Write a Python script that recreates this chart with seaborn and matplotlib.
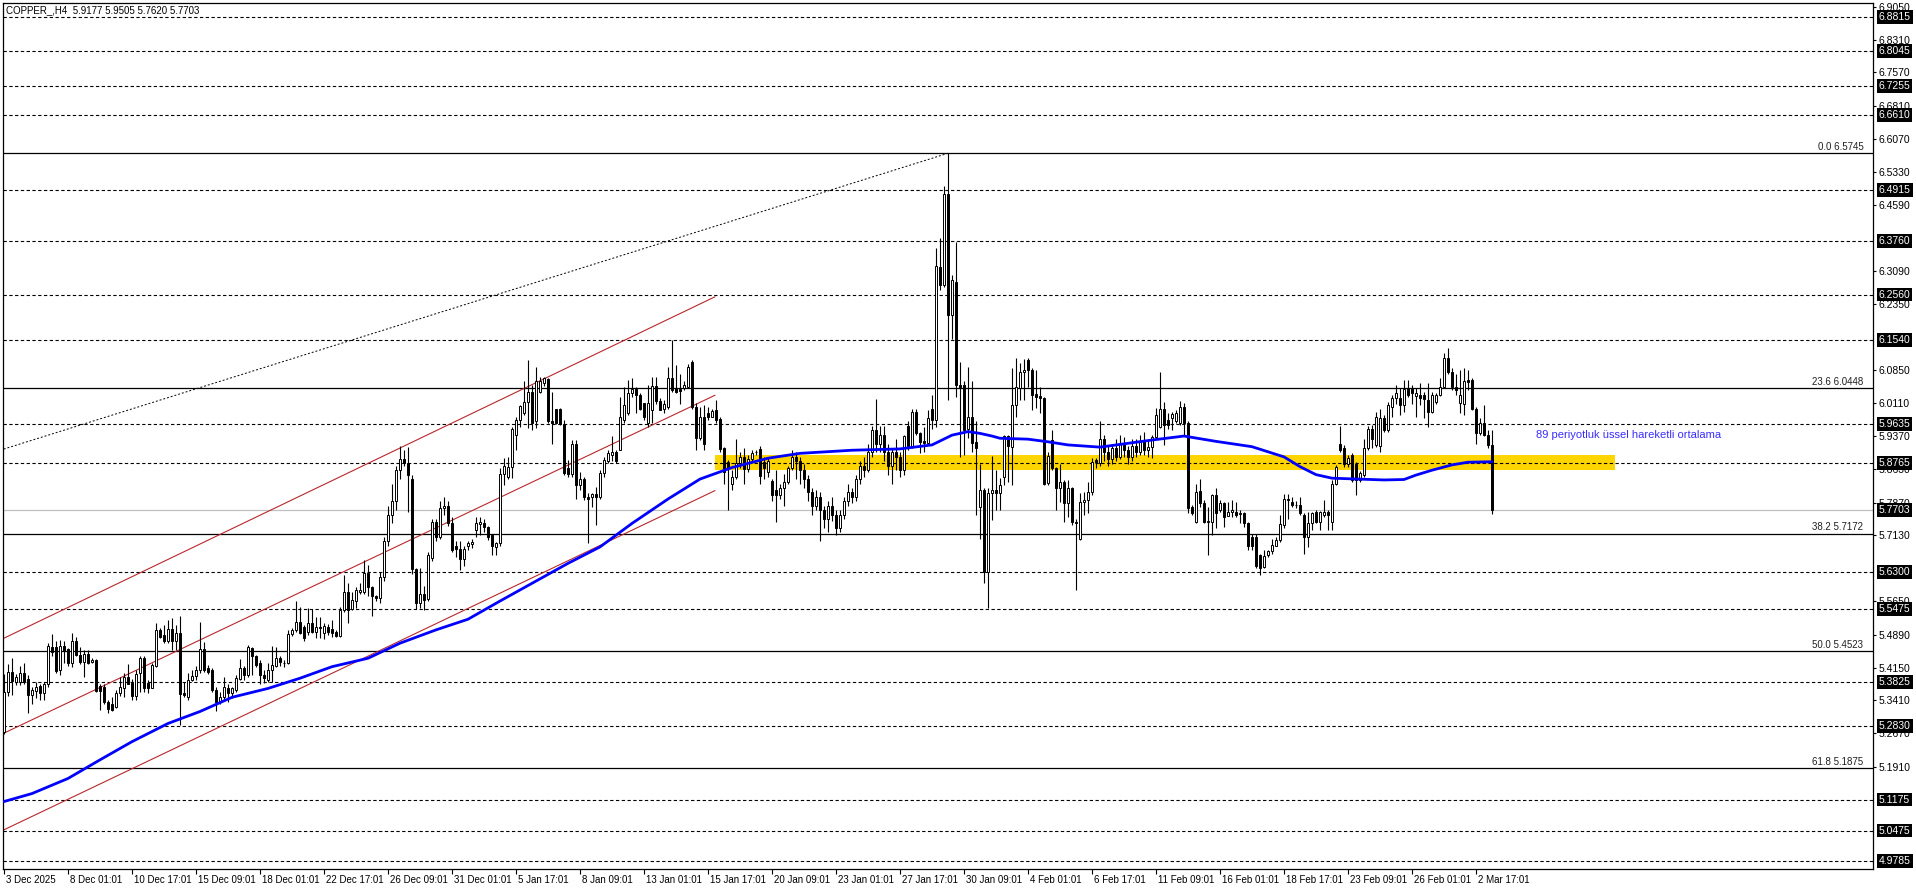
import matplotlib
matplotlib.use("Agg")
import matplotlib.pyplot as plt
import matplotlib.transforms as mtransforms
import numpy as np
import seaborn as sns

# H4 candles (bar 0 = 3 Dec 2025)
opens = [
    5.27, 5.36, 5.406, 5.383, 5.383, 5.402, 5.39, 5.353, 5.362, 5.373,
    5.358, 5.378, 5.461, 5.461, 5.409, 5.464, 5.456, 5.426, 5.475, 5.443,
    5.428, 5.445, 5.428, 5.432, 5.373, 5.372, 5.338, 5.333, 5.327, 5.357,
    5.37, 5.394, 5.381, 5.351, 5.402, 5.437, 5.381, 5.37, 5.419, 5.50,
    5.488, 5.475, 5.503, 5.475, 5.494, 5.357, 5.348, 5.388, 5.396, 5.41,
    5.458, 5.413, 5.41, 5.364, 5.338, 5.349, 5.37, 5.357, 5.364, 5.39,
    5.415, 5.398, 5.459, 5.44, 5.426, 5.398, 5.387, 5.409, 5.419, 5.437,
    5.426, 5.426, 5.49, 5.50, 5.518, 5.507, 5.496, 5.516, 5.496, 5.507,
    5.494, 5.507, 5.501, 5.496, 5.486, 5.545, 5.585, 5.547, 5.566, 5.586,
    5.586, 5.629, 5.597, 5.576, 5.571, 5.62, 5.70, 5.76, 5.79, 5.86,
    5.885, 5.877, 5.84, 5.638, 5.56, 5.58, 5.569, 5.661, 5.744, 5.71,
    5.775, 5.78, 5.74, 5.69, 5.683, 5.66, 5.688, 5.693, 5.725, 5.739,
    5.742, 5.733, 5.713, 5.687, 5.695, 5.851, 5.845, 5.868, 5.94, 5.973,
    5.988, 6.014, 6.037, 5.97, 6.037, 6.056, 6.065, 5.971, 5.997, 5.997,
    5.964, 5.864, 5.851, 5.919, 5.826, 5.841, 5.80, 5.80, 5.806, 5.80,
    5.853, 5.88, 5.894, 5.902, 5.905, 5.973, 5.988, 6.033, 6.044, 6.03,
    6.011, 5.966, 5.995, 6.05, 6.015, 5.999, 6.003, 6.067, 6.045, 6.044,
    6.045, 6.048, 6.105, 6.003, 5.932, 5.98, 5.99, 5.98, 5.996, 5.975,
    5.909, 5.879, 5.83, 5.845, 5.876, 5.89, 5.862, 5.885, 5.90, 5.908,
    5.878, 5.855, 5.835, 5.815, 5.804, 5.82, 5.834, 5.864, 5.89, 5.88,
    5.86, 5.84, 5.81, 5.78, 5.80, 5.77, 5.75, 5.78, 5.76, 5.73,
    5.76, 5.79, 5.81, 5.80, 5.84, 5.87, 5.86, 5.90, 5.95, 5.92,
    5.94, 5.90, 5.87, 5.90, 5.89, 5.86, 5.96, 5.913, 5.992, 5.943,
    5.926, 5.921, 5.997, 5.973, 6.317, 6.278, 6.483, 6.21, 6.285, 6.052,
    6.052, 5.952, 5.979, 5.924, 5.776, 5.815, 5.631, 5.808, 5.815, 5.808,
    5.845, 5.936, 5.912, 6.007, 6.045, 6.082, 6.108, 6.086, 6.032, 6.027,
    6.022, 5.832, 5.928, 5.864, 5.819, 5.834, 5.786, 5.819, 5.744, 5.706,
    5.789, 5.792, 5.811, 5.884, 5.876, 5.93, 5.90, 5.885, 5.91, 5.89,
    5.92, 5.905, 5.89, 5.915, 5.90, 5.925, 5.905, 5.913, 5.935, 5.958,
    5.999, 5.973, 5.978, 5.97, 5.966, 6.003, 5.966, 5.778, 5.744, 5.813,
    5.785, 5.744, 5.744, 5.804, 5.77, 5.785, 5.757, 5.766, 5.766, 5.762,
    5.764, 5.742, 5.71, 5.71, 5.669, 5.642, 5.668, 5.678, 5.69, 5.703,
    5.736, 5.794, 5.789, 5.782, 5.781, 5.759, 5.71, 5.74, 5.766, 5.744,
    5.758, 5.766, 5.744, 5.83, 5.92, 5.91, 5.875, 5.894, 5.875, 5.838,
    5.849, 5.909, 5.952, 5.917, 5.914, 5.978, 5.95, 6.003, 6.022, 6.022,
    6.007, 6.045, 6.045, 6.027, 6.03, 6.03, 6.018, 5.992, 6.014, 6.03,
    6.048, 6.112, 6.082, 6.048, 6.011, 6.01, 6.063, 6.063, 5.999, 5.943,
    5.966, 5.94, 5.9177,
]
highs = [
    5.40, 5.424, 5.436, 5.40, 5.418, 5.425, 5.398, 5.372, 5.383, 5.379,
    5.383, 5.47, 5.491, 5.474, 5.477, 5.474, 5.46, 5.494, 5.483, 5.462,
    5.455, 5.454, 5.437, 5.434, 5.379, 5.379, 5.342, 5.349, 5.364, 5.394,
    5.402, 5.423, 5.39, 5.41, 5.44, 5.44, 5.387, 5.425, 5.515, 5.504,
    5.511, 5.522, 5.526, 5.511, 5.531, 5.383, 5.402, 5.41, 5.418, 5.518,
    5.473, 5.42, 5.413, 5.372, 5.36, 5.394, 5.379, 5.372, 5.398, 5.434,
    5.418, 5.466, 5.461, 5.443, 5.432, 5.409, 5.426, 5.464, 5.461, 5.441,
    5.432, 5.50, 5.504, 5.564, 5.552, 5.511, 5.549, 5.546, 5.528, 5.53,
    5.515, 5.513, 5.522, 5.50, 5.551, 5.624, 5.606, 5.586, 5.597, 5.605,
    5.657, 5.646, 5.599, 5.579, 5.63, 5.71, 5.78, 5.83, 5.87, 5.915,
    5.905, 5.913, 5.85, 5.64, 5.64, 5.60, 5.675, 5.75, 5.75, 5.79,
    5.80, 5.79, 5.755, 5.70, 5.70, 5.69, 5.70, 5.705, 5.755, 5.755,
    5.75, 5.735, 5.717, 5.699, 5.864, 5.887, 5.89, 5.958, 5.98, 6.007,
    6.06, 6.108, 6.052, 6.093, 6.07, 6.07, 6.067, 6.037, 5.997, 6.0,
    5.973, 5.883, 5.928, 5.928, 5.856, 5.845, 5.808, 5.808, 5.823, 5.86,
    5.89, 5.905, 5.936, 5.906, 6.026, 6.048, 6.063, 6.067, 6.048, 6.033,
    6.011, 6.052, 6.07, 6.07, 6.022, 6.018, 6.093, 6.153, 6.097, 6.078,
    6.06, 6.10, 6.108, 6.011, 6.003, 6.007, 6.003, 5.999, 6.018, 5.98,
    5.913, 5.883, 5.86, 5.93, 5.90, 5.91, 5.895, 5.905, 5.905, 5.915,
    5.89, 5.89, 5.84, 5.86, 5.83, 5.852, 5.87, 5.905, 5.90, 5.89,
    5.875, 5.85, 5.82, 5.815, 5.81, 5.78, 5.79, 5.80, 5.77, 5.77,
    5.80, 5.83, 5.82, 5.85, 5.88, 5.89, 5.92, 5.96, 6.02, 5.96,
    5.96, 5.92, 5.91, 5.93, 5.90, 5.94, 5.97, 5.999, 5.999, 5.947,
    5.958, 5.996, 6.03, 6.36, 6.383, 6.50, 6.5745, 6.30, 6.375, 6.105,
    6.06, 6.092, 6.06, 5.97, 5.874, 5.819, 5.819, 5.892, 5.86, 5.842,
    5.94, 5.94, 6.09, 6.112, 6.101, 6.11, 6.112, 6.09, 6.086, 6.048,
    6.026, 5.902, 5.951, 5.868, 5.874, 5.838, 5.838, 5.823, 5.75, 5.808,
    5.81, 5.834, 5.887, 5.887, 5.97, 5.94, 5.915, 5.92, 5.93, 5.94,
    5.935, 5.915, 5.93, 5.93, 5.94, 5.945, 5.925, 5.94, 6.0, 6.082,
    6.014, 5.988, 5.992, 5.996, 6.016, 6.011, 5.97, 5.781, 5.83, 5.841,
    5.793, 5.778, 5.806, 5.819, 5.793, 5.789, 5.789, 5.793, 5.789, 5.77,
    5.766, 5.744, 5.717, 5.716, 5.672, 5.68, 5.68, 5.706, 5.71, 5.759,
    5.806, 5.806, 5.80, 5.79, 5.80, 5.763, 5.766, 5.766, 5.77, 5.769,
    5.793, 5.77, 5.838, 5.872, 5.96, 5.917, 5.894, 5.898, 5.879, 5.858,
    5.93, 5.96, 5.962, 5.992, 5.999, 5.985, 6.014, 6.03, 6.052, 6.045,
    6.063, 6.063, 6.052, 6.045, 6.056, 6.037, 6.056, 6.037, 6.033, 6.067,
    6.125, 6.135, 6.09, 6.078, 6.086, 6.09, 6.087, 6.067, 6.003, 5.977,
    6.007, 5.95, 5.9505,
]
lows = [
    5.265, 5.35, 5.353, 5.375, 5.376, 5.379, 5.312, 5.334, 5.346, 5.342,
    5.342, 5.372, 5.44, 5.402, 5.398, 5.425, 5.419, 5.417, 5.44, 5.424,
    5.394, 5.423, 5.425, 5.36, 5.319, 5.334, 5.313, 5.316, 5.323, 5.351,
    5.349, 5.378, 5.342, 5.342, 5.36, 5.361, 5.358, 5.368, 5.417, 5.481,
    5.471, 5.47, 5.455, 5.455, 5.285, 5.349, 5.342, 5.385, 5.387, 5.402,
    5.406, 5.40, 5.361, 5.316, 5.334, 5.342, 5.338, 5.346, 5.361, 5.386,
    5.387, 5.394, 5.398, 5.417, 5.379, 5.381, 5.383, 5.383, 5.417, 5.418,
    5.417, 5.423, 5.486, 5.496, 5.491, 5.476, 5.488, 5.492, 5.481, 5.481,
    5.479, 5.488, 5.485, 5.483, 5.483, 5.541, 5.515, 5.544, 5.549, 5.582,
    5.582, 5.576, 5.531, 5.566, 5.56, 5.61, 5.69, 5.74, 5.77, 5.84,
    5.87, 5.766, 5.625, 5.548, 5.55, 5.545, 5.565, 5.655, 5.70, 5.705,
    5.76, 5.735, 5.675, 5.665, 5.635, 5.645, 5.68, 5.685, 5.71, 5.714,
    5.72, 5.703, 5.669, 5.669, 5.69, 5.826, 5.84, 5.842, 5.905, 5.958,
    5.984, 5.955, 5.95, 5.955, 6.035, 6.05, 5.966, 5.92, 5.964, 5.962,
    5.849, 5.845, 5.845, 5.796, 5.815, 5.793, 5.696, 5.778, 5.736, 5.796,
    5.845, 5.876, 5.88, 5.876, 5.905, 5.966, 5.984, 6.026, 5.99, 5.995,
    5.973, 5.958, 5.966, 6.01, 5.996, 5.988, 5.999, 6.037, 6.033, 6.01,
    6.04, 6.045, 5.999, 5.906, 5.928, 5.906, 5.973, 5.98, 5.966, 5.902,
    5.83, 5.77, 5.815, 5.84, 5.866, 5.83, 5.855, 5.878, 5.895, 5.83,
    5.84, 5.845, 5.79, 5.744, 5.795, 5.78, 5.83, 5.86, 5.84, 5.83,
    5.82, 5.79, 5.76, 5.77, 5.70, 5.73, 5.72, 5.745, 5.715, 5.72,
    5.75, 5.78, 5.785, 5.79, 5.83, 5.845, 5.855, 5.89, 5.90, 5.90,
    5.88, 5.85, 5.83, 5.86, 5.845, 5.85, 5.905, 5.909, 5.94, 5.898,
    5.902, 5.917, 5.954, 5.958, 6.266, 6.274, 6.018, 6.155, 6.026, 5.89,
    5.894, 5.932, 5.902, 5.759, 5.706, 5.605, 5.549, 5.748, 5.77, 5.77,
    5.826, 5.834, 5.826, 5.98, 6.018, 6.018, 6.048, 5.996, 6.0, 5.988,
    5.827, 5.827, 5.86, 5.77, 5.789, 5.744, 5.755, 5.736, 5.59, 5.702,
    5.76, 5.763, 5.804, 5.865, 5.87, 5.88, 5.87, 5.875, 5.88, 5.885,
    5.89, 5.875, 5.88, 5.89, 5.895, 5.895, 5.89, 5.887, 5.93, 5.955,
    5.917, 5.954, 5.95, 5.966, 5.962, 5.94, 5.763, 5.759, 5.74, 5.778,
    5.74, 5.669, 5.714, 5.729, 5.766, 5.733, 5.757, 5.755, 5.755, 5.74,
    5.733, 5.68, 5.68, 5.639, 5.624, 5.639, 5.665, 5.672, 5.688, 5.699,
    5.729, 5.75, 5.778, 5.775, 5.759, 5.672, 5.687, 5.725, 5.74, 5.725,
    5.755, 5.725, 5.725, 5.826, 5.902, 5.868, 5.868, 5.834, 5.804, 5.834,
    5.845, 5.905, 5.91, 5.913, 5.90, 5.945, 5.947, 5.98, 6.01, 5.985,
    5.992, 6.026, 6.01, 5.981, 6.007, 5.977, 5.958, 5.988, 6.01, 6.027,
    6.045, 6.078, 6.041, 6.03, 5.988, 5.985, 6.041, 5.996, 5.92, 5.939,
    5.936, 5.91, 5.762,
]
closes = [
    5.36, 5.406, 5.385, 5.394, 5.402, 5.383, 5.353, 5.364, 5.372, 5.358,
    5.379, 5.464, 5.451, 5.407, 5.464, 5.453, 5.426, 5.475, 5.443, 5.428,
    5.445, 5.426, 5.433, 5.362, 5.362, 5.338, 5.321, 5.319, 5.357, 5.372,
    5.394, 5.379, 5.351, 5.40, 5.437, 5.368, 5.368, 5.421, 5.50, 5.485,
    5.475, 5.503, 5.475, 5.494, 5.355, 5.354, 5.388, 5.396, 5.41, 5.458,
    5.41, 5.404, 5.364, 5.338, 5.349, 5.372, 5.358, 5.368, 5.391, 5.415,
    5.398, 5.461, 5.44, 5.421, 5.398, 5.391, 5.409, 5.421, 5.436, 5.428,
    5.425, 5.491, 5.50, 5.518, 5.494, 5.481, 5.516, 5.496, 5.507, 5.504,
    5.509, 5.496, 5.494, 5.486, 5.545, 5.585, 5.545, 5.567, 5.591, 5.591,
    5.629, 5.597, 5.576, 5.571, 5.62, 5.70, 5.76, 5.79, 5.86, 5.885,
    5.877, 5.85, 5.638, 5.56, 5.58, 5.567, 5.669, 5.744, 5.71, 5.775,
    5.78, 5.74, 5.68, 5.682, 5.66, 5.683, 5.695, 5.698, 5.74, 5.744,
    5.733, 5.71, 5.688, 5.695, 5.851, 5.869, 5.868, 5.954, 5.973, 6.005,
    6.014, 6.037, 5.966, 6.06, 6.06, 6.067, 5.97, 5.966, 5.966, 5.964,
    5.854, 5.851, 5.919, 5.826, 5.841, 5.799, 5.796, 5.806, 5.80, 5.853,
    5.883, 5.898, 5.902, 5.88, 5.98, 6.007, 6.035, 6.044, 6.03, 5.999,
    5.98, 6.011, 6.05, 6.015, 5.996, 6.01, 6.067, 6.041, 6.037, 6.039,
    6.052, 6.093, 6.003, 5.932, 5.98, 5.919, 5.98, 5.994, 5.973, 5.907,
    5.857, 5.864, 5.845, 5.876, 5.89, 5.862, 5.885, 5.898, 5.901, 5.846,
    5.865, 5.88, 5.804, 5.804, 5.82, 5.834, 5.865, 5.89, 5.88, 5.86,
    5.84, 5.81, 5.78, 5.80, 5.77, 5.75, 5.78, 5.76, 5.73, 5.76,
    5.79, 5.81, 5.80, 5.84, 5.87, 5.86, 5.90, 5.95, 5.92, 5.94,
    5.90, 5.87, 5.90, 5.89, 5.86, 5.937, 5.913, 5.992, 5.943, 5.924,
    5.921, 5.978, 5.973, 6.32, 6.278, 6.483, 6.21, 6.289, 6.052, 6.048,
    5.951, 5.979, 5.921, 5.909, 5.815, 5.631, 5.808, 5.815, 5.808, 5.827,
    5.936, 5.915, 6.007, 6.047, 6.082, 6.087, 6.086, 6.03, 6.026, 6.022,
    5.83, 5.892, 5.864, 5.819, 5.834, 5.786, 5.819, 5.744, 5.74, 5.789,
    5.792, 5.811, 5.879, 5.879, 5.93, 5.90, 5.885, 5.91, 5.89, 5.92,
    5.905, 5.89, 5.915, 5.90, 5.925, 5.905, 5.913, 5.935, 5.984, 5.999,
    5.962, 5.962, 5.986, 5.988, 6.003, 5.966, 5.774, 5.763, 5.811, 5.785,
    5.744, 5.746, 5.804, 5.763, 5.785, 5.755, 5.766, 5.77, 5.759, 5.764,
    5.742, 5.688, 5.688, 5.644, 5.639, 5.667, 5.678, 5.691, 5.703, 5.739,
    5.794, 5.792, 5.782, 5.781, 5.763, 5.71, 5.74, 5.763, 5.744, 5.766,
    5.766, 5.759, 5.83, 5.868, 5.905, 5.875, 5.887, 5.838, 5.838, 5.853,
    5.909, 5.952, 5.93, 5.981, 5.978, 5.95, 6.007, 6.022, 6.034, 6.007,
    6.042, 6.03, 6.033, 6.033, 6.022, 6.02, 5.992, 6.03, 6.03, 6.048,
    6.112, 6.082, 6.048, 6.041, 6.03, 6.06, 6.058, 5.999, 5.943, 5.966,
    5.94, 5.917, 5.7703,
]

# EMA(89) as drawn on the chart, read at these bars
ema_bars = [0, 7, 16, 24, 32, 41, 49, 57, 66, 74, 82, 91, 99, 108, 116, 124,
            132, 141, 149, 157, 166, 174, 182, 191, 199, 212, 224, 232, 237,
            241, 244, 247, 249, 256, 261, 266, 274, 287, 295, 303, 312, 320,
            324, 328, 332, 345, 350, 353, 357, 362, 366, 372]
ema_values = [5.113, 5.131, 5.165, 5.207, 5.248, 5.289, 5.316, 5.348, 5.368,
              5.391, 5.417, 5.436, 5.470, 5.500, 5.524, 5.565, 5.605, 5.650,
              5.687, 5.740, 5.795, 5.840, 5.866, 5.887, 5.898, 5.905, 5.908,
              5.917, 5.939, 5.947, 5.943, 5.937, 5.932, 5.930, 5.924, 5.917,
              5.912, 5.928, 5.937, 5.925, 5.913, 5.890, 5.868, 5.850, 5.842,
              5.838, 5.839, 5.849, 5.860, 5.872, 5.878, 5.879]

date_labels = [
    "3 Dec 2025", "8 Dec 01:01", "10 Dec 17:01", "15 Dec 09:01", "18 Dec 01:01",
    "22 Dec 17:01", "26 Dec 09:01", "31 Dec 01:01", "5 Jan 17:01", "8 Jan 09:01",
    "13 Jan 01:01", "15 Jan 17:01", "20 Jan 09:01", "23 Jan 01:01", "27 Jan 17:01",
    "30 Jan 09:01", "4 Feb 01:01", "6 Feb 17:01", "11 Feb 09:01", "16 Feb 01:01",
    "18 Feb 17:01", "23 Feb 09:01", "26 Feb 01:01", "2 Mar 17:01",
]
price_ticks = [6.9050, 6.8310, 6.7570, 6.6810, 6.6070, 6.5330, 6.4590,
               6.3090, 6.2350, 6.0850, 6.0110, 5.9370, 5.8630, 5.7870,
               5.7130, 5.5650, 5.4890, 5.4150, 5.3410, 5.2670, 5.1910]
levels = [6.8815, 6.8045, 6.7255, 6.6610, 6.4915, 6.3760, 6.2560, 6.1540,
          5.9635, 5.8765, 5.6300, 5.5475, 5.3825, 5.2830, 5.1175, 5.0475, 4.9785]
fib_names = ["0.0", "23.6", "38.2", "50.0", "61.8"]
fib_prices = [6.5745, 6.0448, 5.7172, 5.4523, 5.1875]
last_price = 5.7703
channel_start = [5.477, 5.263, 5.045]
channel_end = [6.251, 6.029, 5.814]
zone_low, zone_high = 5.860, 5.894

sns.set_theme(style="white")
plt.rcParams['font.family'] = ['Liberation Sans', 'DejaVu Sans']

fig = plt.figure(figsize=(19.16, 8.88), dpi=100)
ax = fig.add_axes([3 / 1916, 19 / 888, 1870 / 1916, 866 / 888])

o = np.array(opens)
c = np.array(closes)
h = np.maximum(np.array(highs), np.maximum(o, c))
l = np.minimum(np.array(lows), np.minimum(o, c))
idx = np.arange(len(c))
up = c >= o

# zone, levels, fib lines
ax.fill_between([177.75, 402.75], zone_low, zone_high, color='#ffd500', lw=0, zorder=0.5)
for lv in levels:
    ax.axhline(lv, color='black', lw=0.8, ls=(0, (3, 2.2)), zorder=1)
for name, lv in zip(fib_names, fib_prices):
    ax.axhline(lv, color='black', lw=0.9, zorder=1)
    ax.annotate(f"{name} {lv:.4f}", xy=(1, lv), xycoords=ax.get_yaxis_transform(),
                xytext=(-7, 1), textcoords='offset points', ha='right', va='bottom',
                fontsize=7, color='#202020')
ax.axhline(last_price, color='#c0c0c0', lw=0.9, zorder=1)

# channel and fib trend line
for s, e in zip(channel_start, channel_end):
    ax.plot([-1, 177.75], [s, e], color='#b8282d', lw=0.8, zorder=2)
ax.plot([-1, 236], [5.905, 6.5745], color='black', lw=0.7, ls=(0, (2, 2)), zorder=2)

# candles
ax.vlines(idx, l, h, color='black', lw=0.8, zorder=3)
ax.bar(idx, np.abs(c - o), bottom=np.minimum(o, c), width=0.6,
       color=np.where(up, 'white', 'black'), edgecolor='black', linewidth=0.7, zorder=4)

# EMA 89
sns.lineplot(x=ema_bars, y=ema_values, color='#0000ff', lw=2.0, ax=ax, zorder=5, legend=False)
ax.text(383, 5.939, "89 periyotluk üssel hareketli ortalama", color='#3a2cff',
        fontsize=8.0, va='center', ha='left')

ax.text(0.0016, 0.997, "COPPER_,H4  5.9177 5.9505 5.7620 5.7703", transform=ax.transAxes,
        ha='left', va='top', fontsize=7, color='black')

ax.set_xlim(-0.25, 467.25)
ax.set_ylim(4.9609, 6.9133)

# right price axis
ax.yaxis.tick_right()
ax.set_yticks(price_ticks)
ax.set_yticklabels([f"{v:.4f}" for v in price_ticks])
ax.tick_params(axis='y', direction='out', length=2.4, width=0.8, pad=1.8, labelsize=7.5,
               right=True, left=False, labelright=True, labelleft=False, colors='black')
for lv in levels + [last_price]:
    ax.annotate(f"{lv:.4f}", xy=(1, lv), xycoords=ax.get_yaxis_transform(),
                xytext=(4.2, 0), textcoords='offset points', ha='left', va='center',
                fontsize=7.5, color='white', annotation_clip=False, zorder=10,
                bbox=dict(boxstyle='square,pad=0.18', fc='black', ec='none'))

# time axis
ax.set_xticks([16 * i for i in range(len(date_labels))])
ax.set_xticklabels(date_labels, ha='left')
ax.tick_params(axis='x', direction='out', length=3.5, width=0.8, pad=0.8, labelsize=7,
               bottom=True, colors='black')
shift = mtransforms.ScaledTranslation(2 / 100, 0, fig.dpi_scale_trans)
for lbl in ax.get_xticklabels():
    lbl.set_transform(lbl.get_transform() + shift)

for sp in ax.spines.values():
    sp.set_visible(True)
    sp.set_color('black')
    sp.set_linewidth(0.9)
ax.grid(False)

fig.savefig('out.png', dpi=100)
